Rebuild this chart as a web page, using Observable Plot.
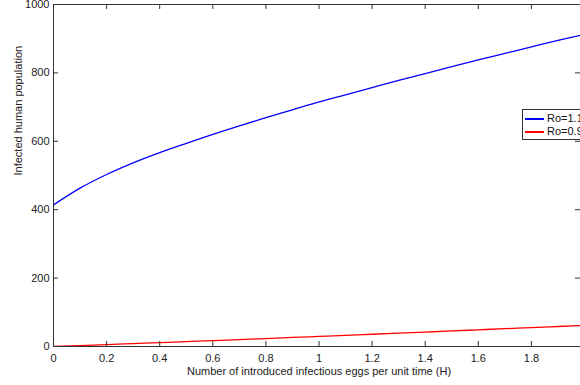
<!DOCTYPE html>
<html><head><meta charset="utf-8">
<script src="https://cdn.jsdelivr.net/npm/d3@7"></script>
<script src="https://cdn.jsdelivr.net/npm/@observablehq/plot@0.6"></script>
<style>
html,body{margin:0;padding:0;overflow:hidden;background:#fff;width:580px;height:385px}
#wrap{position:relative;width:580px;height:385px;overflow:hidden;font-family:"Liberation Sans",Arial,sans-serif}
#legend{position:absolute;left:522px;top:109px;width:80px;height:31px;border:1px solid #333;background:#fff;font-size:11px;color:#111;box-sizing:border-box}
#legend .row{position:absolute;left:2px;height:13px;line-height:13px;white-space:nowrap}
#legend .sw{position:absolute;left:0;top:6px;width:19px;height:2px}
#legend .lab{position:absolute;left:22px;top:0}
</style></head>
<body><div id="wrap"></div>
<script>
const hValues   = [0, 0.1, 0.2, 0.3, 0.4, 0.5, 0.6, 0.7, 0.8, 0.9, 1.0, 1.1, 1.2, 1.3, 1.4, 1.5, 1.6, 1.7, 1.8, 1.9, 2.0];
const ro11Values = [414, 463, 503, 537, 567, 594, 620, 645, 669, 692, 715, 736, 757, 778, 798, 818, 838, 857, 876, 895, 913];
const ro09Values = [0, 2.7, 5.5, 8.4, 11.3, 14.2, 17.2, 20.2, 23.3, 26.4, 29.5, 32.6, 35.8, 39.0, 42.2, 45.4, 48.7, 52.0, 55.2, 58.5, 61.8];
const seriesNames = ["Ro=1.1", "Ro=0.9"];
const seriesColors = ["#0000ff", "#ff0000"];
const xTicks = [0, 0.2, 0.4, 0.6, 0.8, 1, 1.2, 1.4, 1.6, 1.8];
const yTicks = [0, 200, 400, 600, 800, 1000];
const xLabel = "Number of introduced infectious eggs per unit time (H)";
const yLabel = "Infected human population";

const rows = [];
hValues.forEach((h, i) => {
  rows.push({H: h, v: ro11Values[i], s: seriesNames[0]});
  rows.push({H: h, v: ro09Values[i], s: seriesNames[1]});
});

const W = 580, HT = 385, mL = 53, mT = 4, mB = 39;
const plotH = HT - mT - mB;
const tk = 5;
const axisColor = "#333";

const chart = Plot.plot({
  width: W, height: HT,
  marginLeft: mL, marginRight: 0, marginTop: mT, marginBottom: mB,
  style: {fontFamily: '"Liberation Sans", Arial, sans-serif', fontSize: "11px", color: "#222", background: "#fff", overflow: "hidden"},
  x: {domain: [0, 2], range: [mL, 584]},
  y: {domain: [0, 1000], range: [HT - mB, mT]},
  color: {domain: seriesNames, range: seriesColors},
  marks: [
    Plot.line(rows, {x: "H", y: "v", z: "s", stroke: "s", strokeWidth: 1.3, curve: "monotone-x", clip: "frame"}),
    Plot.ruleY([0, 1000], {y: d => d, stroke: axisColor, strokeWidth: 1}),
    Plot.ruleX([0], {x: d => d, stroke: axisColor, strokeWidth: 1}),
    Plot.tickX(xTicks.filter(d => d > 0), {x: d => d, insetTop: plotH - tk, stroke: axisColor}),
    Plot.tickX(xTicks.filter(d => d > 0), {x: d => d, insetBottom: plotH - tk, stroke: axisColor}),
    Plot.tickY(yTicks.filter(d => d > 0 && d < 1000), {y: d => d, insetRight: W - mL - tk, stroke: axisColor}),
    Plot.tickY(yTicks.filter(d => d > 0 && d < 1000), {y: d => d, insetLeft: W - mL - tk, stroke: axisColor}),
    Plot.axisX({ticks: xTicks, tickSize: 0, tickPadding: 8, label: null, tickFormat: d => String(d), fill: "#222"}),
    Plot.axisY({ticks: yTicks, tickSize: 0, tickPadding: 4, label: null, tickFormat: d => String(d), fill: "#222"}),
    Plot.text([xLabel], {text: d => d, frameAnchor: "bottom", dx: 2, dy: 25, lineAnchor: "middle", fontSize: 11, fill: "#222"}),
    Plot.text([yLabel], {text: d => d, frameAnchor: "left", rotate: -90, dx: -35, lineAnchor: "middle", fontSize: 11, fill: "#222"})
  ]
});
const wrap = document.getElementById("wrap");
wrap.appendChild(chart);

const leg = document.createElement("div");
leg.id = "legend";
seriesNames.forEach((name, i) => {
  const row = document.createElement("div");
  row.className = "row";
  row.style.top = (2 + i * 13) + "px";
  const sw = document.createElement("div");
  sw.className = "sw";
  sw.style.background = seriesColors[i];
  const lab = document.createElement("span");
  lab.className = "lab";
  lab.textContent = name;
  row.appendChild(sw);
  row.appendChild(lab);
  leg.appendChild(row);
});
wrap.appendChild(leg);
</script>
</body></html>
